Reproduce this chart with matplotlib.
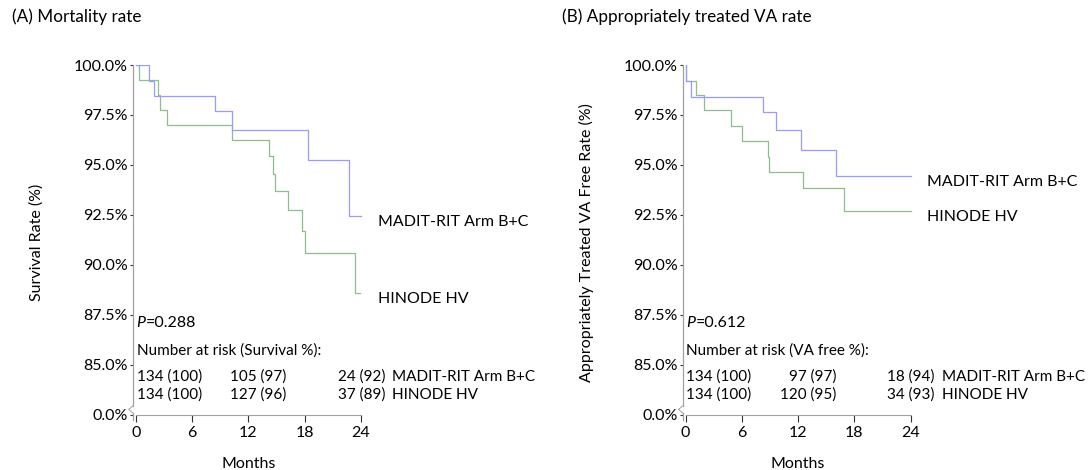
import numpy as np
import matplotlib
matplotlib.use("Agg")
import matplotlib.pyplot as plt

plt.rcParams['font.family'] = ['Lato', 'DejaVu Sans']
plt.rcParams['font.size'] = 11

# (A) Mortality rate - Kaplan-Meier steps
a_madit_t = [0, 1.4, 1.95, 8.5, 10.3, 18.4, 22.7, 24.0]
a_madit_s = [100, 99.22, 98.47, 97.68, 96.77, 95.23, 92.43, 92.43]
a_hinode_t = [0, 0.36, 2.38, 2.63, 3.34, 10.3, 14.2, 14.65, 14.87, 16.25, 17.7, 18.1, 23.4, 23.9]
a_hinode_s = [100, 99.23, 98.48, 97.73, 96.98, 96.25, 95.43, 94.53, 93.72, 92.73, 91.7, 90.6, 88.6, 88.6]

# (B) Appropriately treated VA rate
b_madit_t = [0, 0.1, 0.6, 8.27, 9.66, 12.3, 16.0, 24.0]
b_madit_s = [100, 99.22, 98.42, 97.63, 96.73, 95.73, 94.43, 94.43]
b_hinode_t = [0, 0.1, 1.1, 1.96, 4.88, 6.05, 8.8, 8.9, 12.5, 16.9, 24.0]
b_hinode_s = [100, 99.22, 98.48, 97.73, 96.93, 96.2, 95.38, 94.63, 93.85, 92.7, 92.7]

groups = ["MADIT-RIT Arm B+C", "HINODE HV"]
a_risk = [["134 (100)", "105 (97)", "24 (92)"], ["134 (100)", "127 (96)", "37 (89)"]]
b_risk = [["134 (100)", "97 (97)", "18 (94)"], ["134 (100)", "120 (95)", "34 (93)"]]

yticks = [82.5, 85, 87.5, 90, 92.5, 95, 97.5, 100]
ytick_labels = ["0.0%", "85.0%", "87.5%", "90.0%", "92.5%", "95.0%", "97.5%", "100.0%"]
xticks = [0, 6, 12, 18, 24]

blue = "#9a9aff"
green = "#8cbf8c"
axis_gray = "#a0a0a0"

fig = plt.figure(figsize=(10.88, 4.70), dpi=100)


def km_panel(left, madit_t, madit_s, hinode_t, hinode_s, ylabel, pval, risk_title, risk,
             end_y):
    ax = fig.add_axes([left, 0.1064, 0.2120, 0.7553])
    ax.step(hinode_t, hinode_s, where='post', color=green, lw=0.9)
    ax.step(madit_t, madit_s, where='post', color=blue, lw=0.9)
    ax.set_xlim(-0.3, 24.3)
    ax.set_ylim(82.25, 100)
    ax.set_yticks(yticks)
    ax.set_yticklabels(ytick_labels)
    ax.set_xticks(xticks)
    for s in ['top', 'right', 'left']:
        ax.spines[s].set_visible(False)
    ax.spines['bottom'].set_position(('data', 82.5))
    ax.spines['bottom'].set_bounds(0, 24)
    ax.spines['bottom'].set_color(axis_gray)
    ax.tick_params(axis='y', length=2.5, width=0.8, color='#333333', pad=1, labelsize=11.5)
    ax.tick_params(axis='x', length=5, width=0.8, color='#333333', pad=3, labelsize=11.5)

    # left axis line with a break between 85% and 0%
    ax.plot([-0.3, -0.3], [100, 82.95], color=axis_gray, lw=0.9, clip_on=False)
    ax.plot([-0.3, -0.75, -0.3], [82.95, 82.78, 82.6], color=axis_gray, lw=0.7, clip_on=False)
    ax.plot([-0.3, -0.3], [82.6, 82.25], color=axis_gray, lw=0.9, clip_on=False)

    ax.set_ylabel(ylabel, fontsize=11.5)
    ax.yaxis.set_label_coords(-0.385, 0.5)
    ax.set_xlabel("Months", labelpad=12, fontsize=11.5)

    # curve labels
    ax.text(25.8, end_y[0], groups[0], va='center', clip_on=False, fontsize=11.5)
    ax.text(25.8, end_y[1], groups[1], va='center', clip_on=False, fontsize=11.5)

    # p value and number at risk
    ptxt = ax.text(0.1, 87.1, "P", style='italic', va='center', fontsize=11.5)
    ax.annotate("=" + pval, xy=(1, 0), xycoords=ptxt, va='bottom', fontsize=11.5)
    ax.text(0.1, 85.7, risk_title, va='center')
    for i, ry in enumerate([84.4, 83.5]):
        ax.text(0.1, ry, risk[i][0], va='center', clip_on=False)
        ax.text(16.1, ry, risk[i][1], va='center', ha='right', clip_on=False)
        ax.text(26.6, ry, risk[i][2], va='center', ha='right', clip_on=False)
        ax.text(27.3, ry, groups[i], va='center', clip_on=False)
    return ax


km_panel(0.1222, a_madit_t, a_madit_s, a_hinode_t, a_hinode_s, "Survival Rate (%)",
         "0.288", "Number at risk (Survival %):", a_risk, [92.15, 88.3])
km_panel(0.6275, b_madit_t, b_madit_s, b_hinode_t, b_hinode_s,
         "Appropriately Treated VA Free Rate (%)",
         "0.612", "Number at risk (VA free %):", b_risk, [94.17, 92.4])

fig.text(12 / 1088, 1 - 17 / 470, "(A) Mortality rate", va='center', fontsize=12.3)
fig.text(562 / 1088, 1 - 17 / 470, "(B) Appropriately treated VA rate", va='center',
         fontsize=12.3)

fig.savefig("out.png", dpi=100)
